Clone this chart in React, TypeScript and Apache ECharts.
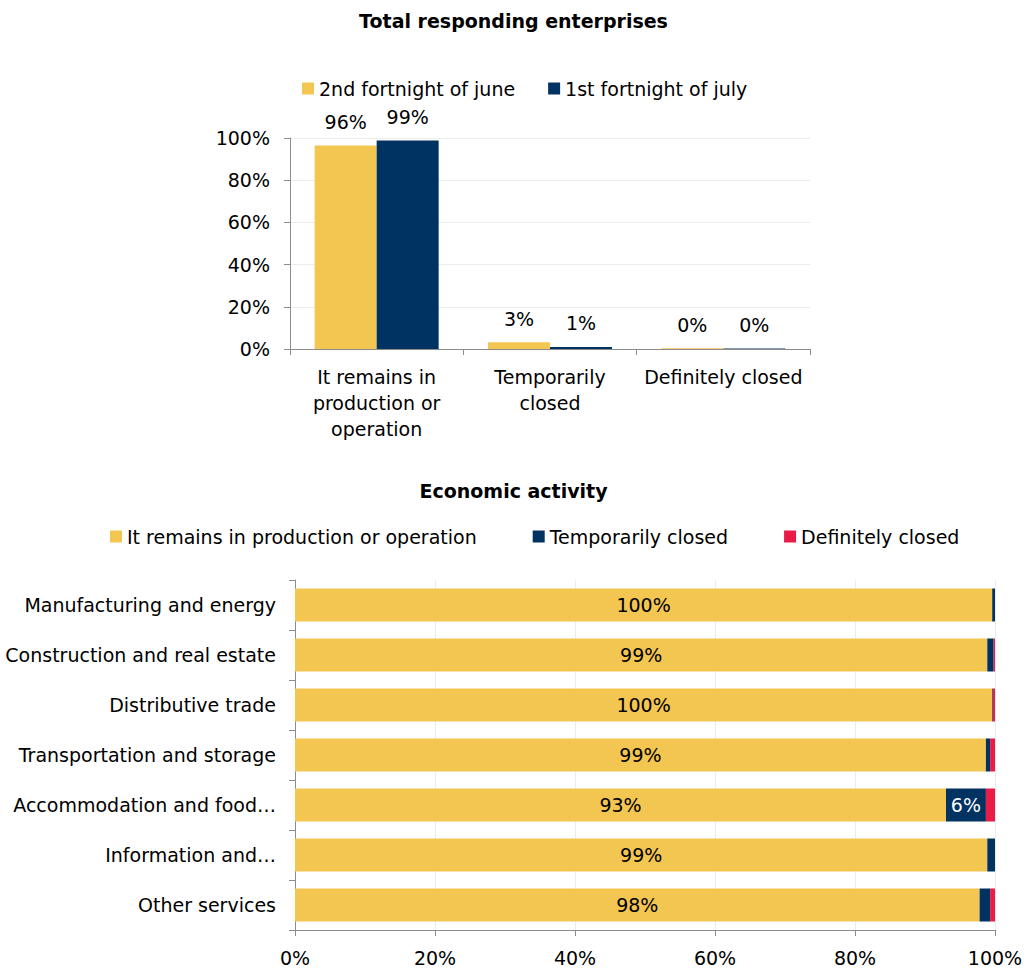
import React, { useEffect, useRef } from "react";
import * as echarts from "echarts";

const topCategories = ["It remains in\nproduction or\noperation", "Temporarily\nclosed", "Definitely closed"];
const juneValues = [96.4, 3.2, 0.3];
const julyValues = [98.8, 1.0, 0.2];
const topTicks = [0, 20, 40, 60, 80, 100];

const activities = [
  "Manufacturing and energy",
  "Construction and real estate",
  "Distributive trade",
  "Transportation and storage",
  "Accommodation and food…",
  "Information and…",
  "Other services",
];
const remainsValues = [99.6, 98.9, 99.6, 98.7, 93.0, 98.9, 97.8];
const tempClosedValues = [0.4, 0.9, 0.1, 0.6, 5.7, 1.1, 1.5];
const defClosedValues = [0.0, 0.2, 0.3, 0.7, 1.3, 0.0, 0.7];

const YELLOW = "#F3C551";
const NAVY = "#003262";
const RED = "#EA1B47";
const FONT = "DejaVu Sans";
const FS = 19;
const AXIS = "#8c8c8c";
const GRID = "#ececec";

export default function App() {
  const ref = useRef<HTMLDivElement>(null);
  useEffect(() => {
    document.body.style.margin = "0";
    if (!ref.current) return;
    const chart = echarts.init(ref.current, null, { renderer: "svg" });
    const pct = (v: number) => Math.round(v) + "%";
    chart.setOption({
      animation: false,
      textStyle: { fontFamily: FONT, color: "#000" },
      title: [
        {
          text: "Total responding enterprises",
          left: "center",
          top: 6,
          textStyle: { fontFamily: FONT, fontSize: FS, fontWeight: "bold", color: "#000" },
        },
        {
          text: "Economic activity",
          left: "center",
          top: 476,
          textStyle: { fontFamily: FONT, fontSize: FS, fontWeight: "bold", color: "#000" },
        },
      ],
      legend: [
        {
          data: ["2nd fortnight of june", "1st fortnight of july"],
          left: 297,
          top: 74,
          itemWidth: 12,
          itemHeight: 12,
          itemGap: 33,
          icon: "rect",
          textStyle: { fontFamily: FONT, fontSize: FS, color: "#000" },
        },
        {
          data: ["It remains in production or operation", "Temporarily closed", "Definitely closed"],
          left: 105,
          top: 522,
          itemWidth: 12,
          itemHeight: 12,
          itemGap: 56,
          icon: "rect",
          textStyle: { fontFamily: FONT, fontSize: FS, color: "#000" },
        },
      ],
      grid: [
        { left: 290, right: 217, top: 138, height: 211 },
        { left: 295, right: 32, top: 580, height: 350 },
      ],
      xAxis: [
        {
          gridIndex: 0,
          type: "category",
          data: topCategories,
          axisLine: { lineStyle: { color: AXIS } },
          axisTick: { show: true, length: 6, lineStyle: { color: AXIS } },
          axisLabel: { fontFamily: FONT, fontSize: FS, color: "#000", lineHeight: 26, margin: 15, interval: 0 },
        },
        {
          gridIndex: 1,
          type: "value",
          min: 0,
          max: 100,
          interval: 20,
          axisLine: { show: true, lineStyle: { color: AXIS } },
          axisTick: { show: true, length: 6, lineStyle: { color: AXIS } },
          splitLine: { show: true, lineStyle: { color: GRID } },
          axisLabel: { fontFamily: FONT, fontSize: FS, color: "#000", margin: 18, formatter: (v: number) => v + "%" },
        },
      ],
      yAxis: [
        {
          gridIndex: 0,
          type: "value",
          min: 0,
          max: 100,
          interval: 20,
          axisLine: { show: true, lineStyle: { color: AXIS } },
          axisTick: { show: true, length: 6, lineStyle: { color: AXIS } },
          splitLine: { show: true, lineStyle: { color: GRID } },
          axisLabel: {
            fontFamily: FONT,
            fontSize: FS,
            color: "#000",
            margin: 20,
            customValues: topTicks,
            formatter: (v: number) => v + "%",
          },
        },
        {
          gridIndex: 1,
          type: "category",
          data: activities,
          inverse: true,
          axisLine: { show: true, lineStyle: { color: AXIS } },
          axisTick: { show: true, length: 6, lineStyle: { color: AXIS } },
          axisLabel: { fontFamily: FONT, fontSize: FS, color: "#000", margin: 19, interval: 0 },
        },
      ],
      series: [
        {
          name: "2nd fortnight of june",
          type: "bar",
          xAxisIndex: 0,
          yAxisIndex: 0,
          data: juneValues,
          barWidth: 62,
          barGap: "0%",
          itemStyle: { color: YELLOW },
          label: {
            show: true,
            position: "top",
            distance: 14,
            fontFamily: FONT,
            fontSize: FS,
            color: "#000",
            formatter: (p: any) => pct(p.value),
          },
        },
        {
          name: "1st fortnight of july",
          type: "bar",
          xAxisIndex: 0,
          yAxisIndex: 0,
          data: julyValues,
          barWidth: 62,
          barGap: "0%",
          itemStyle: { color: NAVY },
          label: {
            show: true,
            position: "top",
            distance: 14,
            fontFamily: FONT,
            fontSize: FS,
            color: "#000",
            formatter: (p: any) => pct(p.value),
          },
        },
        {
          name: "It remains in production or operation",
          type: "bar",
          stack: "act",
          xAxisIndex: 1,
          yAxisIndex: 1,
          data: remainsValues,
          barWidth: 33,
          itemStyle: { color: YELLOW },
          label: {
            show: true,
            position: "inside",
            fontFamily: FONT,
            fontSize: FS,
            color: "#000",
            formatter: (p: any) => pct(p.value),
          },
        },
        {
          name: "Temporarily closed",
          type: "bar",
          stack: "act",
          xAxisIndex: 1,
          yAxisIndex: 1,
          data: tempClosedValues.map((v) => ({
            value: v,
            label: { show: v >= 5 },
          })),
          barWidth: 33,
          itemStyle: { color: NAVY },
          label: {
            show: false,
            position: "inside",
            fontFamily: FONT,
            fontSize: FS,
            color: "#fff",
            formatter: (p: any) => pct(p.value),
          },
        },
        {
          name: "Definitely closed",
          type: "bar",
          stack: "act",
          xAxisIndex: 1,
          yAxisIndex: 1,
          data: defClosedValues,
          barWidth: 33,
          itemStyle: { color: RED },
          label: { show: false },
        },
      ],
    });
    return () => chart.dispose();
  }, []);
  return <div ref={ref} style={{ width: 1027, height: 969 }} />;
}
